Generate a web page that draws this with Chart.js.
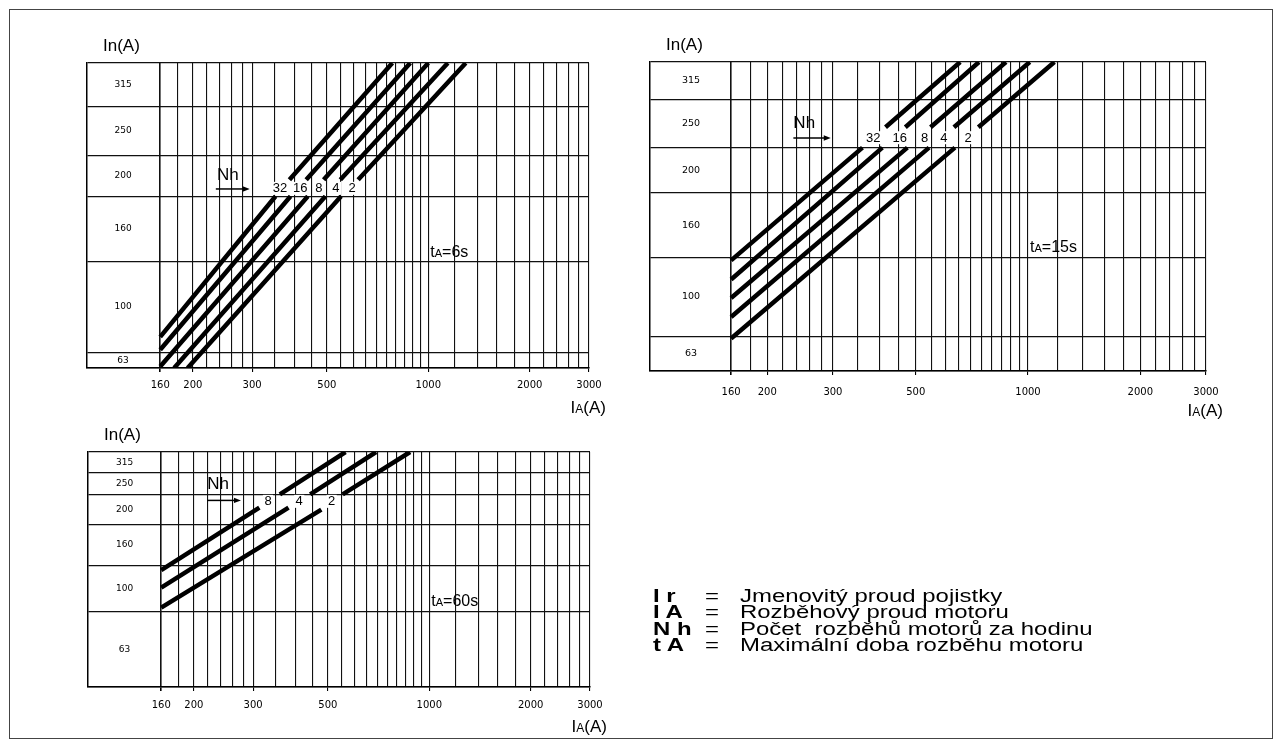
<!DOCTYPE html>
<html lang="cs">
<head>
<meta charset="utf-8">
<title>Volba pojistek pro rozběh motorů</title>
<script src="https://cdn.jsdelivr.net/npm/chart.js@4.4.1/dist/chart.umd.min.js"></script>
<style>
  html, body { margin: 0; padding: 0; background: #fff; }
  body { width: 1282px; height: 746px; position: relative; overflow: hidden;
         font-family: "Liberation Sans", Arial, sans-serif; color: #000; }
  #sheet { position: absolute; left: 9px; top: 9px; width: 1264px; height: 730px;
           border: 1px solid #444; box-sizing: border-box; }
  canvas.panel { position: absolute; }
  .lg { position: absolute; left: 0; height: 18px; width: 700px; font-size: 18px; line-height: 18px; }
  .lg > * { position: absolute; top: 0; white-space: pre; transform: scaleX(1.33); transform-origin: 0 0; }
  .lg b { left: 653px; font-weight: bold; }
  .lg .eq { left: 705px; }
  .lg .tx { left: 740px; }
</style>
</head>
<body>
<div id="sheet"></div>
<canvas id="p6" class="panel"></canvas>
<canvas id="p15" class="panel"></canvas>
<canvas id="p60" class="panel"></canvas>

<div class="lg" style="top:586.5px"><b>I r</b><span class="eq">=</span><span class="tx">Jmenovitý proud pojistky</span></div>
<div class="lg" style="top:603px"><b>I A</b><span class="eq">=</span><span class="tx">Rozběhový proud motoru</span></div>
<div class="lg" style="top:619.5px"><b>N h</b><span class="eq">=</span><span class="tx">Počet  rozběhů motorů za hodinu</span></div>
<div class="lg" style="top:636px"><b>t A</b><span class="eq">=</span><span class="tx">Maximální doba rozběhu motoru</span></div>

<script>
// Motor starting current IA (A): vertical rulings and the labelled values
const iaGrid = [160, 180, 200, 220, 240, 260, 280, 300, 350, 400, 450, 500, 550, 600, 650, 700,
                750, 800, 850, 900, 950, 1000, 1200, 1400, 1600, 1800, 2000, 2200, 2400, 2600, 2800, 3000];
const iaTicks = [160, 200, 300, 500, 1000, 2000, 3000];

// Fuse rated current In (A), one horizontal band each, bottom to top
const fuseRatings = [63, 100, 160, 200, 250, 315];

// Band boundaries on the vertical nomogram scale (0 = bottom edge, 100 = top edge)
const bands6s  = [0, 5.1, 35.0, 56.3, 69.6, 85.8, 100];
const bands15s = [0, 11.2, 36.7, 57.7, 72.3, 87.9, 100];
const bands60s = [0, 31.9, 51.8, 69.1, 82.0, 91.2, 100];

// Number of starts per hour Nh, one curve each
const starts6s  = [32, 16, 8, 4, 2];
const starts15s = [32, 16, 8, 4, 2];
const starts60s = [8, 4, 2];

// Curves as [IA, level]: lower start, lower end, upper start, upper end
const curves6s = [
  [[160, 10.2], [352, 56.3], [387, 61.7], [782, 100]],
  [[160, 6.0],  [390, 56.3], [434, 61.7], [884, 100]],
  [[160, 0.5],  [439, 56.3], [489, 61.7], [1000, 100]],
  [[176, 0],    [495, 56.3], [548, 61.7], [1143, 100]],
  [[193, 0],    [551, 56.3], [619, 61.7], [1292, 100]]
];
const curves15s = [
  [[160, 35.8], [360, 72.3], [415, 78.9], [658, 100]],
  [[160, 29.6], [407, 72.3], [469, 78.9], [739, 100]],
  [[160, 23.6], [475, 72.3], [548, 78.9], [873, 100]],
  [[160, 17.5], [543, 72.3], [633, 78.9], [1011, 100]],
  [[160, 10.5], [637, 72.3], [736, 78.9], [1177, 100]]
];
const curves60s = [
  [[160, 49.7], [313, 76.3], [360, 82.0], [564, 100]],
  [[160, 42.3], [382, 76.3], [443, 82.0], [695, 100]],
  [[160, 33.8], [478, 75.5], [553, 82.0], [877, 100]]
];

// Maximum starting time of each diagram
const startTimes = ['6s', '15s', '60s'];

const FONT = 'Liberation Sans, Arial, sans-serif';
const TICKFONT = 'DejaVu Sans, sans-serif';

// write a run of text pieces with individual sizes on one baseline
function textRuns(ctx, runs, x, y, measureOnly) {
  let cx = x;
  for (const [t, size] of runs) {
    ctx.font = size + 'px ' + FONT;
    if (!measureOnly) ctx.fillText(t, cx, y);
    cx += ctx.measureText(t).width;
  }
  return cx - x;
}

function arrow(ctx, x0, x1, y) {
  ctx.lineWidth = 1.5;
  ctx.beginPath(); ctx.moveTo(x0, y); ctx.lineTo(x1 - 5, y); ctx.stroke();
  ctx.beginPath(); ctx.moveTo(x1, y); ctx.lineTo(x1 - 7, y - 2.7); ctx.lineTo(x1 - 7, y + 2.7);
  ctx.closePath(); ctx.fill();
}

// axis titles, Nh marker, curve labels and tA caption
const nomogramText = {
  id: 'nomogramText',
  afterDraw(chart, _args, o) {
    const { ctx, chartArea: a } = chart;
    const X = v => chart.scales.x.getPixelForValue(v);
    const Y = v => chart.scales.y.getPixelForValue(v);
    ctx.save();
    ctx.fillStyle = '#000';
    ctx.strokeStyle = '#000';
    ctx.textAlign = 'left';
    ctx.textBaseline = 'alphabetic';

    textRuns(ctx, [['In(A)', 17]], a.left + 16, a.top - 12);
    const iaTitle = [['I', 17], ['A', 12], ['(A)', 17]];
    const w = textRuns(ctx, iaTitle, 0, 0, true);
    textRuns(ctx, iaTitle, a.right + 17 - w, a.bottom + 45);

    textRuns(ctx, [['Nh', 17]], X(o.nhAt[0]), Y(o.nhAt[1]));
    arrow(ctx, X(o.arrowAt[0]), X(o.arrowAt[1]), Y(o.arrowAt[2]));

    ctx.font = '13px ' + FONT;
    ctx.textAlign = 'center';
    ctx.textBaseline = 'middle';
    o.starts.forEach((n, i) => {
      const x = X(o.labelIA[i]), y = Y(o.labelLevel);
      const tw = ctx.measureText(String(n)).width;
      ctx.fillStyle = '#fff';
      ctx.fillRect(x - tw / 2 - 1.5, y - 6.5, tw + 3, 13);
      ctx.fillStyle = '#000';
      ctx.fillText(String(n), x, y + 0.5);
    });

    ctx.textAlign = 'left';
    ctx.textBaseline = 'alphabetic';
    textRuns(ctx, [['t', 16], ['A', 11], ['=' + o.time, 16]], X(o.timeAt[0]) + 2, Y(o.timeAt[1]));
    ctx.restore();
  }
};

function curveData(c) {
  const [a, b, d, e] = c;
  return [
    { x: a[0], y: a[1] }, { x: b[0], y: b[1] },
    { x: Math.sqrt(b[0] * d[0]), y: null },
    { x: d[0], y: d[1] }, { x: e[0], y: e[1] }
  ];
}

function drawPanel(id, frame, bands, curves, text, yLabelPad, yLabelSize, xLabelPad) {
  const [L, T, R, B] = frame;
  const padL = 20, padT = 30, padR = 45, padB = 25, axisH = 30;
  const cv = document.getElementById(id);
  cv.style.left = (L - padL) + 'px';
  cv.style.top = (T - padT) + 'px';
  cv.width = R - L + padL + padR;
  cv.height = B - T + padT + padB + axisH;

  const centers = bands.slice(0, -1).map((v, i) => (v + bands[i + 1]) / 2);

  new Chart(cv, {
    type: 'line',
    data: {
      datasets: curves.map(c => ({
        data: curveData(c),
        borderColor: '#000',
        borderWidth: 4.5,
        borderCapStyle: 'butt',
        pointRadius: 0,
        spanGaps: false,
        tension: 0,
        clip: 0
      }))
    },
    options: {
      responsive: false,
      animation: false,
      events: [],
      layout: { padding: { left: padL, top: padT, right: padR, bottom: padB } },
      plugins: { legend: { display: false }, tooltip: { enabled: false }, nomogramText: text },
      scales: {
        x: {
          type: 'logarithmic', min: 97, max: 3000,
          afterBuildTicks: s => { s.ticks = iaGrid.map(v => ({ value: v })); },
          afterFit: s => { s.height = axisH; s.paddingLeft = 0; s.paddingRight = 0; },
          ticks: {
            autoSkip: false, maxRotation: 0, minRotation: 0, padding: xLabelPad,
            color: '#000', font: { family: TICKFONT, size: 10 },
            callback: v => iaTicks.includes(v) ? String(v) : ''
          },
          grid: {
            color: '#111',
            lineWidth: c => (c.tick && c.tick.value === 160) ? 1.6 : 1.1,
            drawTicks: true, tickLength: 4,
            tickColor: c => (c.tick && iaTicks.includes(c.tick.value)) ? '#000' : 'rgba(0,0,0,0)'
          },
          border: { display: true, color: '#000', width: 1.5 }
        },
        y: {
          type: 'linear', min: 0, max: 100,
          afterBuildTicks: s => { s.ticks = bands.map(v => ({ value: v })); },
          afterFit: s => { s.width = 0; s.paddingTop = 0; s.paddingBottom = 0; },
          ticks: { display: false },
          grid: { color: '#111', lineWidth: 1.2, drawTicks: false },
          border: { display: true, color: '#000', width: 1.5 }
        },
        yl: {
          type: 'linear', position: 'left', min: 0, max: 100,
          afterBuildTicks: s => { s.ticks = centers.map(v => ({ value: v })); },
          afterFit: s => { s.width = 0; s.paddingTop = 0; s.paddingBottom = 0; },
          ticks: {
            mirror: true, crossAlign: 'center', padding: yLabelPad,
            color: '#000', font: { family: TICKFONT, size: yLabelSize },
            callback: (v, i) => String(fuseRatings[i])
          },
          grid: { display: false, drawTicks: false },
          border: { display: false }
        }
      }
    },
    plugins: [nomogramText]
  });
}

drawPanel('p6', [87, 63, 589, 368], bands6s, curves6s, {
  starts: starts6s, labelIA: [363, 417, 473, 532, 594], labelLevel: 58.9,
  nhAt: [236, 61.7], arrowAt: [234, 295, 58.7],
  time: startTimes[0], timeAt: [1000, 36.5]
}, 27.5, 9, 7);

drawPanel('p15', [650, 62, 1206, 371], bands15s, curves15s, {
  starts: starts15s, labelIA: [385, 453, 528, 595, 691], labelLevel: 75.5,
  nhAt: [235, 78.5], arrowAt: [235, 296, 75.4],
  time: startTimes[1], timeAt: [1000, 38.4]
}, 32, 9.5, 11);

drawPanel('p60', [88, 452, 590, 687], bands60s, curves60s, {
  starts: starts60s, labelIA: [332, 411, 513], labelLevel: 79.0,
  nhAt: [219, 84.1], arrowAt: [219, 276, 79.4],
  time: startTimes[2], timeAt: [1000, 34.3]
}, 28, 9, 8);
</script>
</body>
</html>
